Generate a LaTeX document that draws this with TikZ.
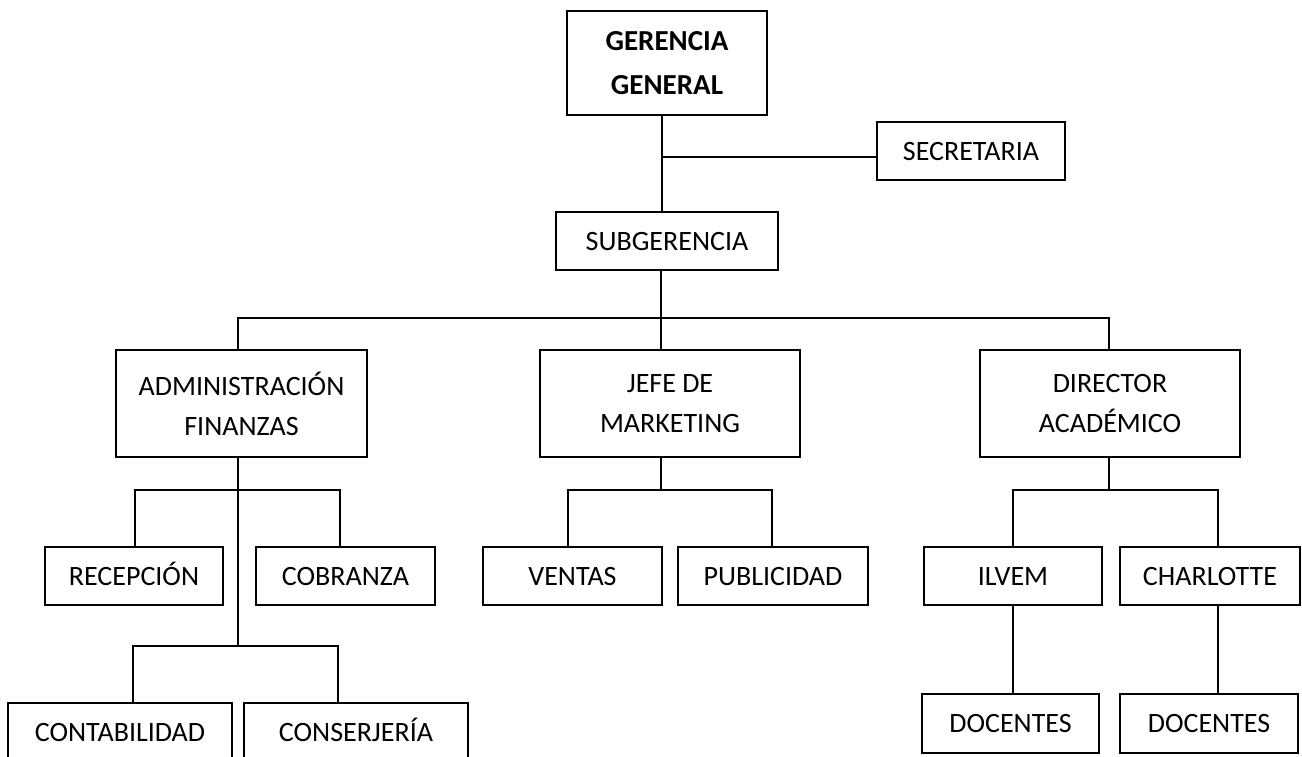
\documentclass[tikz,border=0pt]{standalone}
\usepackage{fontspec}
\setmainfont{Carlito}
\begin{document}
\begin{tikzpicture}[x=1pt,y=-1pt,
  box/.style={draw,line width=2pt,inner sep=0pt,align=center,
    font=\fontsize{28}{40}\selectfont},
  onebox/.style={box,text height=18pt,text depth=0pt},
  conn/.style={line width=1.8pt}]
\useasboundingbox (0,0) rectangle (1302,756);
% boxes
\node[box,minimum width=200pt,minimum height=104pt,font=\fontsize{29}{44}\selectfont\bfseries] (ger) at (667,63) {GERENCIA\\GENERAL};
\node[onebox,minimum width=188pt,minimum height=58pt] (sec) at (971,151) {SECRETARIA};
\node[onebox,minimum width=222pt,minimum height=58pt] (sub) at (667,241) {SUBGERENCIA};
\node[box,minimum width=251pt,minimum height=107pt] (adm) at (241.5,403.5) {ADMINISTRACIÓN\\FINANZAS};
\node[box,minimum width=260pt,minimum height=107pt] (jefe) at (670,403.5) {JEFE DE\\MARKETING};
\node[box,minimum width=260pt,minimum height=107pt] (dir) at (1110,403.5) {DIRECTOR\\ACADÉMICO};
\node[onebox,minimum width=178pt,minimum height=58pt] (rec) at (134,576) {RECEPCIÓN};
\node[onebox,minimum width=179pt,minimum height=58pt] (cob) at (345.5,576) {COBRANZA};
\node[onebox,minimum width=179pt,minimum height=58pt] (ven) at (572.5,576) {VENTAS};
\node[onebox,minimum width=190pt,minimum height=58pt] (pub) at (773,576) {PUBLICIDAD};
\node[onebox,minimum width=178pt,minimum height=58pt] (ilv) at (1013,576) {ILVEM};
\node[onebox,minimum width=180pt,minimum height=58pt] (cha) at (1210,576) {CHARLOTTE};
\node[onebox,minimum width=224pt,minimum height=59pt] (con) at (120,732.5) {CONTABILIDAD};
\node[onebox,minimum width=224pt,minimum height=59pt] (cons) at (356,732.5) {CONSERJERÍA};
\node[onebox,minimum width=177pt,minimum height=59pt] (doc1) at (1010.5,723.5) {DOCENTES};
\node[onebox,minimum width=178pt,minimum height=59pt] (doc2) at (1209,723.5) {DOCENTES};
% junction coordinates
\coordinate (g1) at (662,157);
\coordinate (s1) at (661,318);
\coordinate (bl) at (238,318);
\coordinate (br) at (1109,318);
\coordinate (ab2) at (238,646);
\coordinate (r1) at (135,490);
\coordinate (c1) at (340,490);
\coordinate (k1) at (133,646);
\coordinate (k2) at (338,646);
\coordinate (jb) at (661,490);
\coordinate (v1) at (568,490);
\coordinate (p1) at (772,490);
\coordinate (db) at (1109,490);
\coordinate (i1) at (1013,490);
\coordinate (h1) at (1218,490);
% connectors
\draw[conn] (ger.south -| g1) -- (sub.north -| g1);
\draw[conn] (g1) -- (g1 -| sec.west);
\draw[conn] (sub.south -| s1) -- (jefe.north -| s1);
\draw[conn] (adm.north -| bl) -- (bl) -- (br) -- (dir.north -| br);
\draw[conn] (adm.south -| ab2) -- (ab2);
\draw[conn] (rec.north -| r1) -- (r1) -- (c1) -- (cob.north -| c1);
\draw[conn] (con.north -| k1) -- (k1) -- (k2) -- (cons.north -| k2);
\draw[conn] (jefe.south -| jb) -- (jb);
\draw[conn] (ven.north -| v1) -- (v1) -- (p1) -- (pub.north -| p1);
\draw[conn] (dir.south -| db) -- (db);
\draw[conn] (ilv.north -| i1) -- (i1) -- (h1) -- (cha.north -| h1);
\draw[conn] (ilv.south -| i1) -- (doc1.north -| i1);
\draw[conn] (cha.south -| h1) -- (doc2.north -| h1);
\end{tikzpicture}
\end{document}
